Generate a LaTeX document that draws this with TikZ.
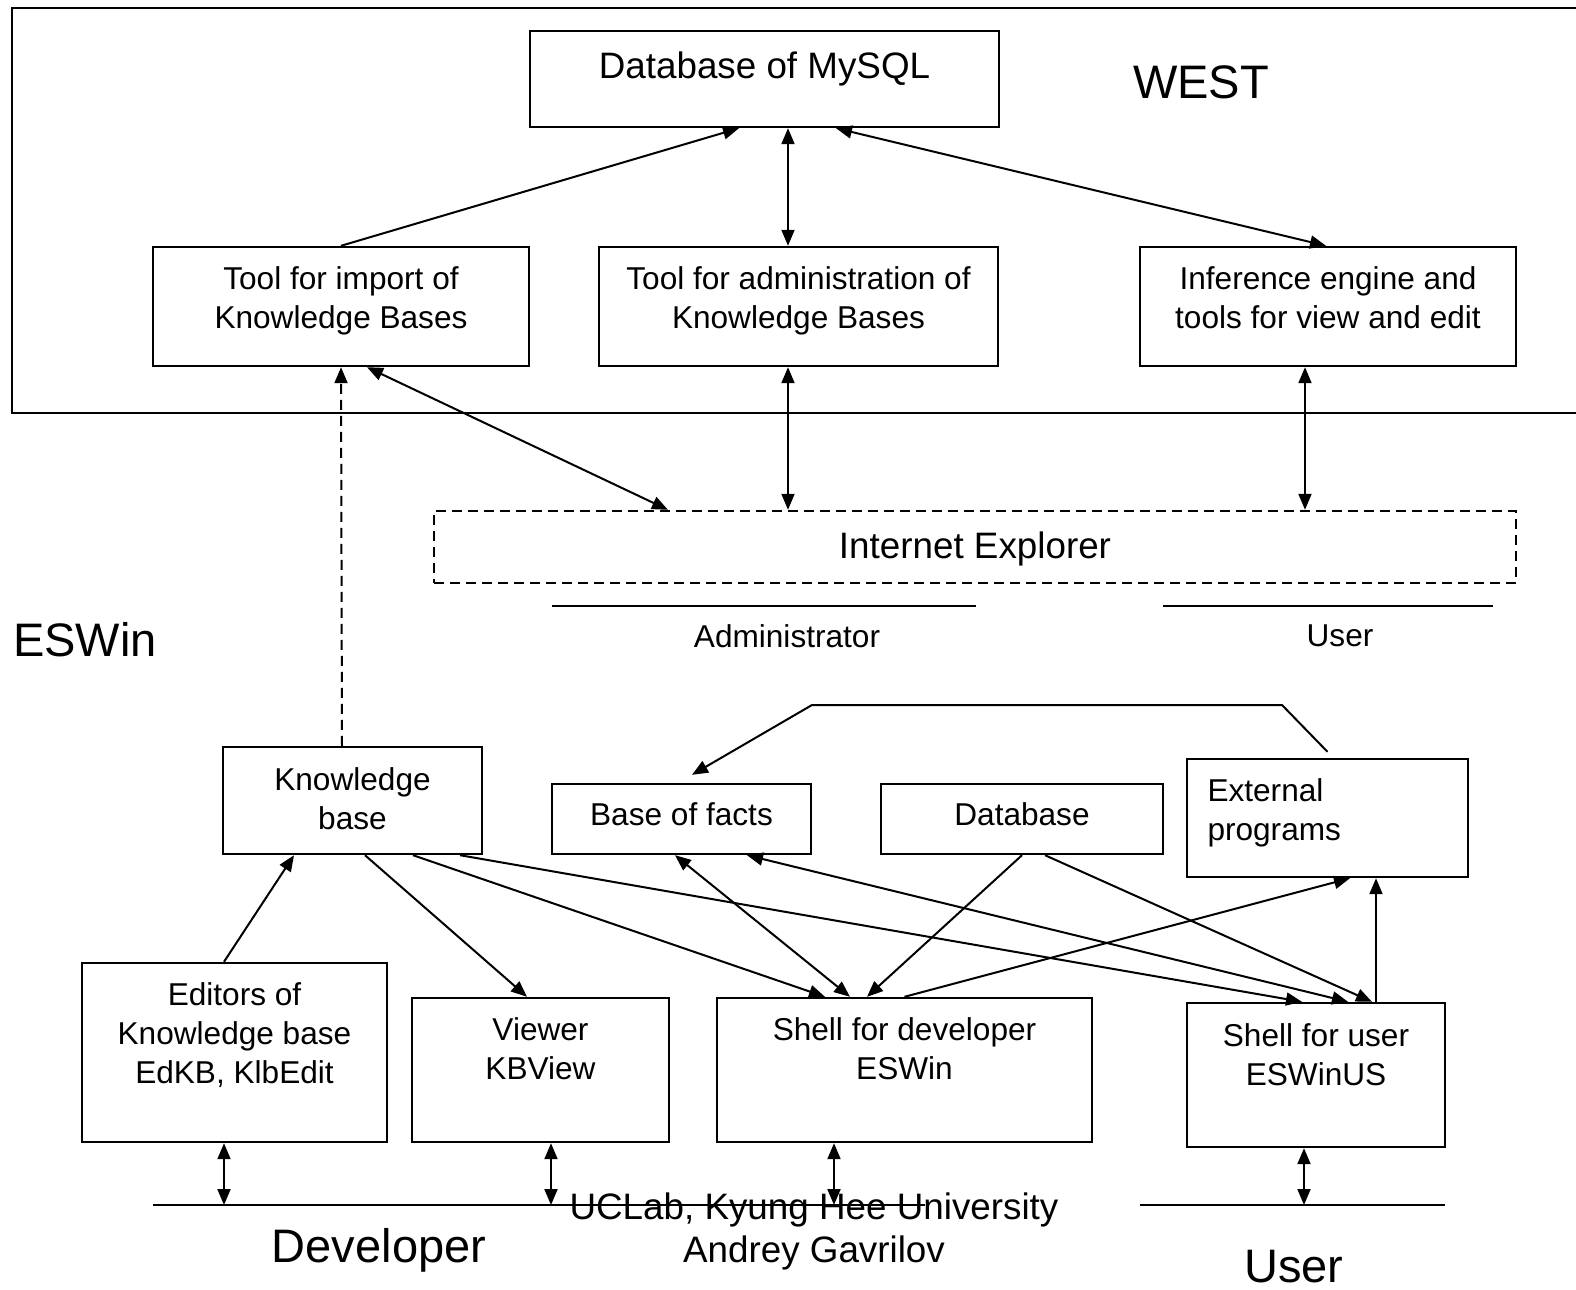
\documentclass[tikz,border=0pt]{standalone}
\usepackage{fontspec}
\setmainfont{Liberation Sans}
\usetikzlibrary{arrows.meta}

\newcommand{\fnorm}{\fontsize{15.8}{19.5}\selectfont}
\newcommand{\fmid}{\fontsize{18.4}{21.5}\selectfont}
\newcommand{\fbig}{\fontsize{23.5}{28}\selectfont}

\tikzset{
  box/.style={draw, line width=1.2pt, inner sep=0pt, align=center, font=\fnorm, text height=12pt, text depth=#1},
  box/.default=6pt,
  twolines/.style={text height=31.5pt},
  dashline/.style={dash pattern=on 5pt off 3pt}
}

\begin{document}
\begin{tikzpicture}[x=0.5pt, y=-0.5pt, line width=1pt, >={Triangle[length=8pt,width=6.5pt]}]
  \useasboundingbox (0,0) rectangle (1576,1290);

  % WEST frame
  \draw[line width=1.2pt] (1576,8) -- (12,8) -- (12,413) -- (1576,413);
  \node[font=\fbig] (west) at (1201,82) {WEST};

  % WEST boxes
  \node[box=15pt, font=\fmid, text height=14pt, minimum width=234.5pt, minimum height=48pt] (mysql) at (764.5,79) {Database of MySQL};
  \node[box=10pt, twolines, minimum width=188pt, minimum height=59.5pt] (import) at (341,306.5) {Tool for import of\\Knowledge Bases};
  \node[box=10pt, twolines, minimum width=199.5pt, minimum height=59.5pt] (admin) at (798.5,306.5) {Tool for administration of\\Knowledge Bases};
  \node[box=10pt, twolines, minimum width=188pt, minimum height=59.5pt] (infer) at (1328,306.5) {Inference engine and\\tools for view and edit};

  % arrows to the database
  \draw[->] (import.north) -- ([xshift=-12.75pt]mysql.south);
  \draw[<->] ([xshift=-5.25pt]admin.north) -- ([xshift=11.75pt]mysql.south);
  \draw[<->] ([xshift=35.75pt]mysql.south) -- ([xshift=-1pt]infer.north);

  % Internet Explorer
  \node[box=3pt, dashline, font=\fmid, text height=14pt, minimum width=541pt, minimum height=36pt] (ie) at (975,547) {Internet Explorer};
  \draw[<->] ([xshift=13pt]import.south) -- ([xshift=-153.5pt]ie.north);
  \draw[<->] ([xshift=-5.25pt]admin.south) -- ([xshift=-93.5pt]ie.north);
  \draw[<->] ([xshift=-11.5pt]infer.south) -- ([xshift=165pt]ie.north);

  % roles of the browser
  \coordinate (admL) at (552,606);
  \coordinate (admR) at (976,606);
  \coordinate (usrL) at (1163,606);
  \coordinate (usrR) at (1493,606);
  \draw (admL) -- (admR);
  \draw (usrL) -- (usrR);
  \node[font=\fnorm] (admtext) at (787,636) {Administrator};
  \node[font=\fnorm] (usrtext) at (1340,636) {User};

  % ESWin part
  \node[font=\fbig] (eswin) at (85,640) {ESWin};
  \node[box=3pt, twolines, minimum width=129.5pt, minimum height=53.5pt] (kb) at (352.5,800.5) {Knowledge\\base};
  \node[box, minimum width=129.5pt, minimum height=35pt] (facts) at (681.5,819) {Base of facts};
  \node[box, minimum width=141pt, minimum height=35pt] (database) at (1022,819) {Database};
  \node[box=29pt, align=left, text width=120pt, minimum width=140.5pt, minimum height=59pt] (external) at (1327.5,818) {External\\programs};
  \node[box=20.5pt, text height=51pt, minimum width=152.5pt, minimum height=89.5pt] (editors) at (234.5,1052.5) {Editors of\\Knowledge base\\EdKB, KlbEdit};
  \node[box=22.5pt, twolines, minimum width=128.5pt, minimum height=72pt] (viewer) at (540.5,1070) {Viewer\\KBView};
  \node[box=22.5pt, twolines, minimum width=187.5pt, minimum height=72pt] (shelldev) at (904.5,1070) {Shell for developer\\ESWin};
  \node[box=21.5pt, twolines, minimum width=129pt, minimum height=72pt] (shelluser) at (1316,1075) {Shell for user\\ESWinUS};

  % import of the knowledge base
  \draw[->, dashline] ([xshift=-5.25pt]kb.north) -- (import.south);

  % external programs back to the facts
  \coordinate (bendR) at (1282,705);
  \coordinate (bendL) at (812,705);
  \draw[->] ([yshift=3pt]external.north) -- (bendR) -- (bendL) -- ([xshift=5.25pt,yshift=4pt]facts.north);

  % links inside ESWin
  \draw[->] ([xshift=-5.25pt]editors.north) -- ([xshift=-29.25pt]kb.south);
  \draw[->] ([xshift=6.25pt]kb.south) -- ([xshift=-6.75pt]viewer.north);
  \draw[->] ([xshift=30.25pt]kb.south) -- ([xshift=-39.75pt]shelldev.north);
  \draw[->] ([xshift=53.75pt]kb.south) -- ([xshift=-7pt]shelluser.north);
  \draw[<->] ([xshift=-3.25pt]facts.south) -- ([xshift=-27.25pt]shelldev.north);
  \draw[->] (database.south) -- ([xshift=-18.75pt]shelldev.north);
  \draw[->] (shelldev.north) -- ([xshift=11.25pt]external.south);
  \draw[<->] ([xshift=32.75pt]facts.south) -- ([xshift=16pt]shelluser.north);
  \draw[->] ([xshift=11.5pt]database.south) -- ([xshift=28pt]shelluser.north);
  \draw[->] ([xshift=30pt]shelluser.north) -- ([xshift=24.25pt]external.south);

  % developer and user
  \coordinate (devL) at (153,1205);
  \coordinate (devR) at (925,1205);
  \coordinate (endL) at (1140,1205);
  \coordinate (endR) at (1445,1205);
  \draw (devL) -- (devR);
  \draw (endL) -- (endR);
  \draw[<->] ([xshift=-5.25pt]editors.south) -- ([xshift=-5.25pt]editors.south |- devL);
  \draw[<->] ([xshift=5.25pt]viewer.south) -- ([xshift=5.25pt]viewer.south |- devL);
  \draw[<->] ([xshift=-35.25pt]shelldev.south) -- ([xshift=-35.25pt]shelldev.south |- devL);
  \draw[<->] ([xshift=-6pt]shelluser.south) -- ([xshift=-6pt]shelluser.south |- endL);
  \node[font=\fbig] (devtext) at (379,1250) {Developer};
  \node[font=\fbig] (endtext) at (1294,1267) {User};
  \node[font=\fmid, align=center] (credit) at (814,1231) {UCLab, Kyung Hee University\\Andrey Gavrilov};
\end{tikzpicture}
\end{document}
